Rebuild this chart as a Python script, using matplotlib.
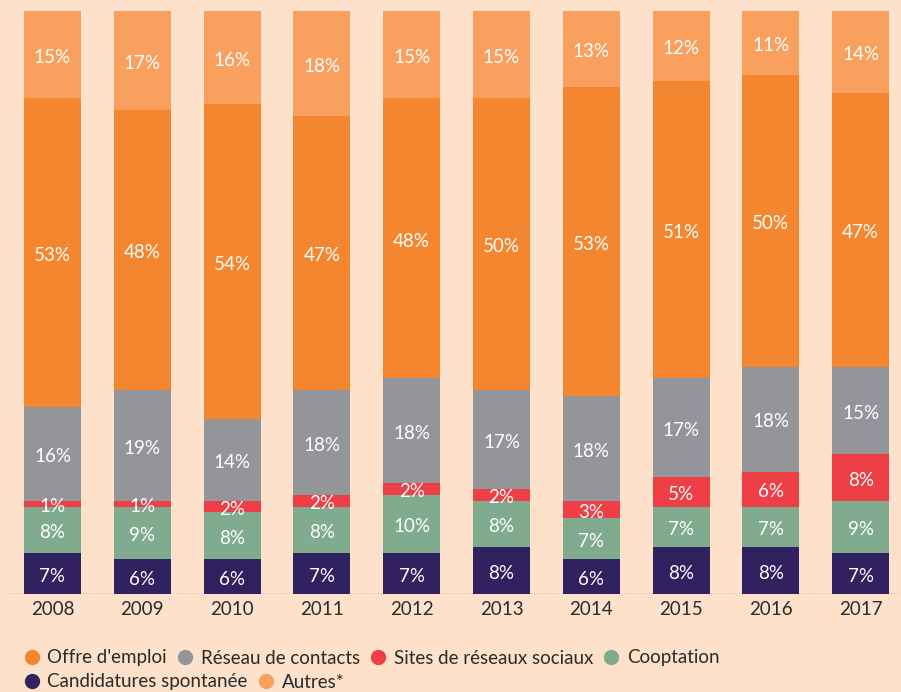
import matplotlib
matplotlib.use("Agg")
import matplotlib.pyplot as plt
from matplotlib.lines import Line2D
import numpy as np

years = ["2008", "2009", "2010", "2011", "2012", "2013", "2014", "2015", "2016", "2017"]
candidatures = [7, 6, 6, 7, 7, 8, 6, 8, 8, 7]
cooptation = [8, 9, 8, 8, 10, 8, 7, 7, 7, 9]
sites_sociaux = [1, 1, 2, 2, 2, 2, 3, 5, 6, 8]
reseau = [16, 19, 14, 18, 18, 17, 18, 17, 18, 15]
offre = [53, 48, 54, 47, 48, 50, 53, 51, 50, 47]
autres = [15, 17, 16, 18, 15, 15, 13, 12, 11, 14]

series = [
    ("Candidatures spontanée", candidatures, "#302260"),
    ("Cooptation", cooptation, "#80AB8F"),
    ("Sites de réseaux sociaux", sites_sociaux, "#EE3E46"),
    ("Réseau de contacts", reseau, "#939598"),
    ("Offre d'emploi", offre, "#F3862E"),
    ("Autres*", autres, "#F9A05E"),
]

BG = "#FDE1CB"
plt.rcParams['font.family'] = ['Lato', 'DejaVu Sans']

W, H = 901, 692
fig = plt.figure(figsize=(W / 100, H / 100), dpi=100, facecolor=BG)
ax = fig.add_axes([9 / W, 1 - 594 / H, (901 - 9) / W, (594 - 11) / H])
ax.set_facecolor(BG)

x = np.arange(len(years))
bottom = np.zeros(len(years))
for name, vals, col in series:
    v = np.array(vals, dtype=float)
    ax.bar(x, v, bottom=bottom, width=0.635, color=col, label=name, zorder=2)
    for xi, b, h in zip(x, bottom, v):
        ax.annotate(f"{int(h)}%", (xi, b + h / 2), xytext=(0, -2),
                    textcoords="offset points", ha="center", va="center",
                    color="white", fontsize=13.5, zorder=3)
    bottom += v

ax.set_xlim(-0.484, 9.449)
ax.set_ylim(0, 100)
ax.axhline(0, color="#333333", linestyle=(0, (1, 1.5)), linewidth=1.0, zorder=4)
for s in ax.spines.values():
    s.set_visible(False)
ax.set_yticks([])
ax.set_xticks(x)
ax.set_xticklabels(years, fontsize=13.5, color="#2a2a2a")
ax.tick_params(axis="x", length=0, pad=5)

def handle(col):
    return Line2D([0], [0], marker="o", linestyle="none", markersize=10,
                  markerfacecolor=col, markeredgecolor=col)

cols = {n: c for n, _, c in series}
row1 = ["Offre d'emploi", "Réseau de contacts", "Sites de réseaux sociaux", "Cooptation"]
row2 = ["Candidatures spontanée", "Autres*"]
for row, ypix in ((row1, 658), (row2, 682)):
    leg = fig.legend([handle(cols[n]) for n in row], row, ncol=len(row),
                     loc="center left", bbox_to_anchor=(24 / W, 1 - ypix / H),
                     frameon=False, fontsize=13.5, handletextpad=0.45,
                     columnspacing=0.55, handlelength=0.8, borderpad=0,
                     borderaxespad=0)
    for t in leg.get_texts():
        t.set_color("#2a2a2a")

fig.savefig("out.png", dpi=100, facecolor=BG)
